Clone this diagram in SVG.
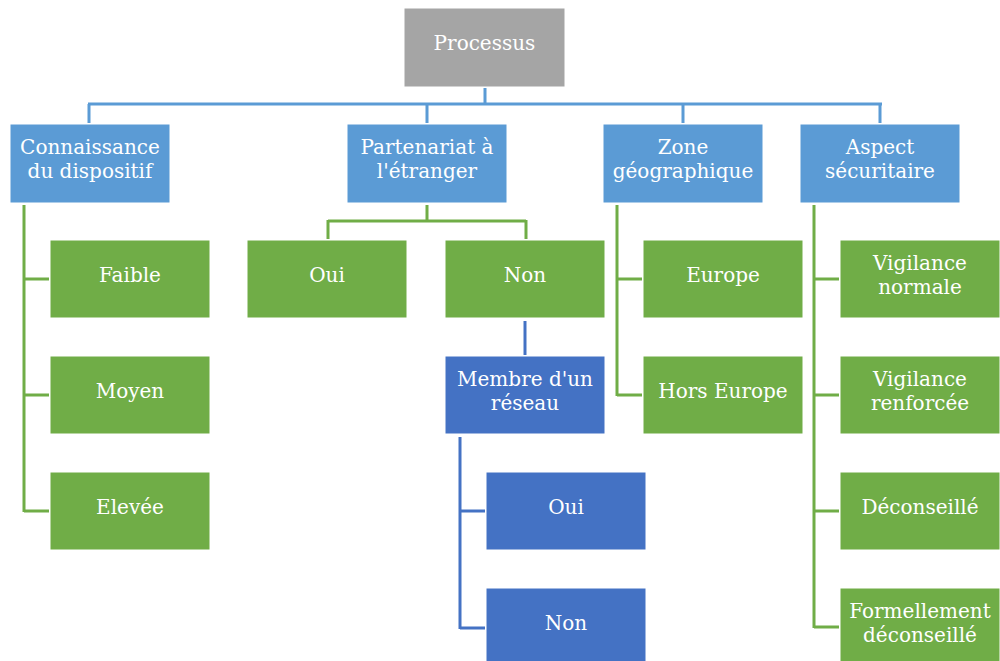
<svg xmlns="http://www.w3.org/2000/svg" width="1000" height="661" viewBox="0 0 1000 661">
  <style>
    .box { stroke: #ffffff; stroke-width: 1; }
    .grey { fill: #a5a5a5; }
    .lblue { fill: #5b9bd5; }
    .green { fill: #70ad47; }
    .dblue { fill: #4472c4; }
    text { font-family: "DejaVu Serif", "Liberation Serif", serif; font-size: 20px; fill: #ffffff; text-anchor: middle; }
    .c-l { fill: none; stroke: #5b9bd5; stroke-width: 3; }
    .c-g { fill: none; stroke: #70ad47; stroke-width: 3; }
    .c-d { fill: none; stroke: #4472c4; stroke-width: 3; }
  </style>
  <rect width="1000" height="661" fill="#ffffff"/>

  <!-- connectors -->
  <g id="connectors">
    <path class="c-l" d="M485,88 V104 M88,104 H882 M89,104 V123 M427,104 V123 M683,104 V123 M880,104 V123"/>
    <path class="c-g" d="M24,205 V512 M24,279 H49 M24,395 H49 M24,511 H49"/>
    <path class="c-g" d="M427,205 V221 M328,221 H526 M328,220 V239 M526,220 V239"/>
    <path class="c-g" d="M617,205 V396 M617,279 H642 M617,395 H642"/>
    <path class="c-g" d="M814,205 V628 M814,279 H839 M814,395 H839 M814,511 H839 M814,627 H839"/>
    <path class="c-d" d="M525,321 V355"/>
    <path class="c-d" d="M460,437 V629 M460,511 H485 M460,628 H485"/>
  </g>

  <!-- root -->
  <g id="processus">
    <rect class="box grey" x="404" y="8" width="161" height="79"/>
    <text x="484.5" y="50">Processus</text>
  </g>

  <!-- level 1 -->
  <g id="connaissance">
    <rect class="box lblue" x="10" y="124" width="160" height="79"/>
    <text x="90" y="154">Connaissance</text>
    <text x="90" y="178">du dispositif</text>
  </g>
  <g id="partenariat">
    <rect class="box lblue" x="347" y="124" width="160" height="79"/>
    <text x="427" y="154">Partenariat à</text>
    <text x="427" y="178">l'étranger</text>
  </g>
  <g id="zone">
    <rect class="box lblue" x="603" y="124" width="160" height="79"/>
    <text x="683" y="154">Zone</text>
    <text x="683" y="178">géographique</text>
  </g>
  <g id="aspect">
    <rect class="box lblue" x="800" y="124" width="160" height="79"/>
    <text x="880" y="154">Aspect</text>
    <text x="880" y="178">sécuritaire</text>
  </g>

  <!-- connaissance du dispositif -->
  <g id="faible">
    <rect class="box green" x="50" y="240" width="160" height="78"/>
    <text x="130" y="282">Faible</text>
  </g>
  <g id="moyen">
    <rect class="box green" x="50" y="356" width="160" height="78"/>
    <text x="130" y="398">Moyen</text>
  </g>
  <g id="elevee">
    <rect class="box green" x="50" y="472" width="160" height="78"/>
    <text x="130" y="514">Elevée</text>
  </g>

  <!-- partenariat -->
  <g id="part-oui">
    <rect class="box green" x="247" y="240" width="160" height="78"/>
    <text x="327" y="282">Oui</text>
  </g>
  <g id="part-non">
    <rect class="box green" x="445" y="240" width="160" height="78"/>
    <text x="525" y="282">Non</text>
  </g>
  <g id="membre">
    <rect class="box dblue" x="445" y="356" width="160" height="78"/>
    <text x="525" y="386">Membre d'un</text>
    <text x="525" y="410">réseau</text>
  </g>
  <g id="membre-oui">
    <rect class="box dblue" x="486" y="472" width="160" height="78"/>
    <text x="566" y="514">Oui</text>
  </g>
  <g id="membre-non">
    <rect class="box dblue" x="486" y="588" width="160" height="78"/>
    <text x="566" y="630">Non</text>
  </g>

  <!-- zone géographique -->
  <g id="europe">
    <rect class="box green" x="643" y="240" width="160" height="78"/>
    <text x="723" y="282">Europe</text>
  </g>
  <g id="hors-europe">
    <rect class="box green" x="643" y="356" width="160" height="78"/>
    <text x="723" y="398">Hors Europe</text>
  </g>

  <!-- aspect sécuritaire -->
  <g id="vig-normale">
    <rect class="box green" x="840" y="240" width="160" height="78"/>
    <text x="920" y="270">Vigilance</text>
    <text x="920" y="294">normale</text>
  </g>
  <g id="vig-renforcee">
    <rect class="box green" x="840" y="356" width="160" height="78"/>
    <text x="920" y="386">Vigilance</text>
    <text x="920" y="410">renforcée</text>
  </g>
  <g id="deconseille">
    <rect class="box green" x="840" y="472" width="160" height="78"/>
    <text x="920" y="514">Déconseillé</text>
  </g>
  <g id="formellement">
    <rect class="box green" x="840" y="588" width="160" height="78"/>
    <text x="920" y="618">Formellement</text>
    <text x="920" y="642">déconseillé</text>
  </g>
</svg>
